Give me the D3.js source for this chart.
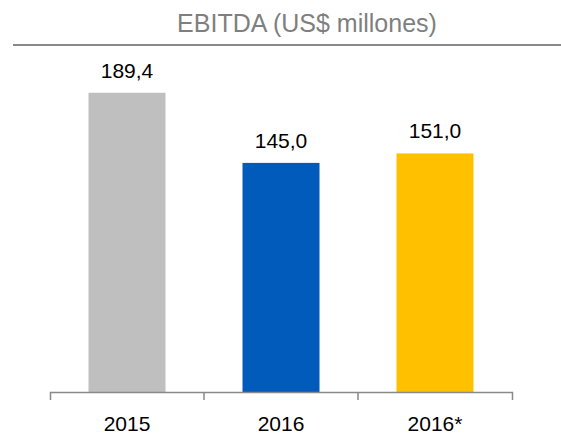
<!DOCTYPE html>
<html>
<head>
<meta charset="utf-8">
<script src="https://cdn.jsdelivr.net/npm/d3@7"></script>
<style>
  body { margin: 0; background: #fff; }
  text { font-family: "Liberation Sans", Arial, sans-serif; }
</style>
</head>
<body>
<div id="chart-container"></div>
<script>
// chart data
const categories = ["2015", "2016", "2016*"];
const values = [189.4, 145.0, 151.0];
const valueLabels = ["189,4", "145,0", "151,0"];
const barColors = ["#BFBFBF", "#005BBB", "#FFC000"];
const title = "EBITDA (US$ millones)";

const W = 561, H = 436;
const svg = d3.select("#chart-container")
  .append("svg")
    .attr("width", W)
    .attr("height", H);

// title and rule under it
svg.append("text")
  .attr("x", 307)
  .attr("y", 32)
  .attr("text-anchor", "middle")
  .attr("font-size", 25)
  .attr("fill", "#7F7F7F")
  .text(title);

svg.append("line")
  .attr("x1", 13).attr("x2", W)
  .attr("y1", 45).attr("y2", 45)
  .attr("stroke", "#898989")
  .attr("stroke-width", 2);

// scales
const x = d3.scaleBand().domain(categories).range([50, 512]).padding(0);
const y = d3.scaleLinear().domain([0, 200]).range([392, 76]);

// bars
svg.selectAll(".bar")
  .data(values)
  .join("rect")
    .attr("class", "bar")
    .attr("x", (d, i) => x(categories[i]) + x.bandwidth() * 0.25)
    .attr("width", x.bandwidth() * 0.5)
    .attr("y", d => y(d))
    .attr("height", d => y(0) - y(d))
    .attr("fill", (d, i) => barColors[i]);

// value labels
svg.selectAll(".val")
  .data(values)
  .join("text")
    .attr("class", "val")
    .attr("x", (d, i) => x(categories[i]) + x.bandwidth() / 2)
    .attr("y", d => y(d) - 15)
    .attr("text-anchor", "middle")
    .attr("font-size", 21)
    .attr("fill", "#000")
    .text((d, i) => valueLabels[i]);

// x axis, ticks between categories like excel
const axis = svg.append("g")
  .attr("transform", `translate(0,${y(0)})`)
  .call(d3.axisBottom(x).tickSizeInner(0).tickSizeOuter(8).tickPadding(24));

axis.select(".domain").attr("stroke", "#898989").attr("stroke-width", 1.5);
axis.selectAll(".tick text")
  .attr("font-size", 21)
  .attr("font-family", "Liberation Sans, Arial, sans-serif")
  .attr("fill", "#000");

axis.selectAll(".sep")
  .data(categories.slice(1))
  .join("line")
    .attr("class", "sep")
    .attr("x1", d => x(d)).attr("x2", d => x(d))
    .attr("y1", 0).attr("y2", 8)
    .attr("stroke", "#898989")
    .attr("stroke-width", 1.5);
</script>
</body>
</html>
